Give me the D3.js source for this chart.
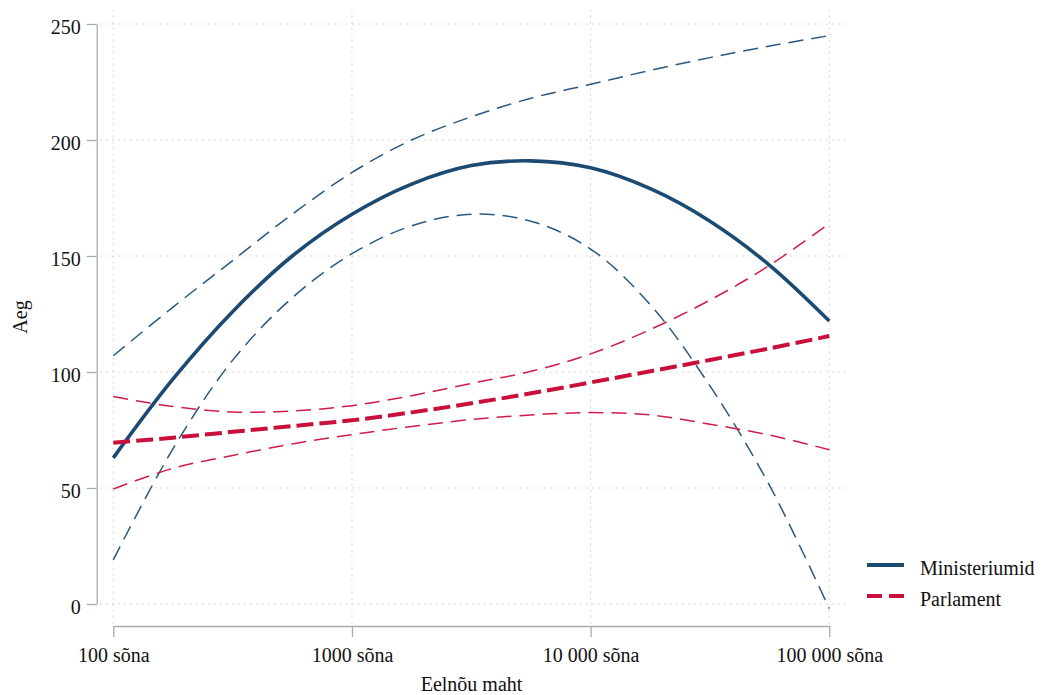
<!DOCTYPE html>
<html>
<head>
<meta charset="utf-8">
<script src="https://cdn.jsdelivr.net/npm/d3@7"></script>
<style>
  html, body { margin: 0; padding: 0; background: #ffffff; }
  svg { display: block; }
  text { font-family: "Liberation Serif", "Times New Roman", serif; fill: #111; }
</style>
</head>
<body>
<svg id="chart" width="1058" height="695"></svg>
<script>
// Draft size (words) at which each curve is evaluated
const wordCounts = [100, 178, 316, 562, 1000, 1778, 3162, 5623, 10000, 17783, 31623, 56234, 100000];

// Ministeeriumid: fitted time and 95% band
const ministeeriumidFit   = [63, 97, 126, 150, 168, 181, 189, 191, 188, 179, 165, 146, 122];
const ministeeriumidUpper = [107, 128, 148, 168, 186, 200, 210, 218, 224, 230, 235.5, 240.5, 245];
const ministeeriumidLower = [19, 67, 105, 132, 151, 163, 168, 165, 153, 129, 94, 51, -2];

// Parlament: fitted time and 95% band
const parlamentFit   = [69.5, 71.7, 74.2, 76.7, 79.2, 82.6, 86.5, 90.8, 95.5, 100.3, 105.2, 110.2, 115.5];
const parlamentUpper = [89.4, 85.1, 82.8, 83.2, 85.5, 89.8, 95.1, 100.3, 107.8, 118.3, 131, 146, 164];
const parlamentLower = [49.6, 58.5, 64, 69, 73, 76.5, 79.5, 81.5, 82.5, 81.5, 77.5, 72.8, 66.5];

// Axis ticks and labels
const xTickValues = [100, 1000, 10000, 100000];
const xTickLabels = ["100 sõna", "1000 sõna", "10 000 sõna", "100 000 sõna"];
const yTickValues = [0, 50, 100, 150, 200, 250];

const legendLabels = ["Ministeriumid", "Parlament"];

const blue = "#1b4a72";
const blueThin = "#2a5780";
const red = "#c8103a";
const redThin = "#cf1d47";

const svg = d3.select("#chart");

const x = d3.scaleLog().domain([100, 100000]).range([113.3, 829.3]);
const y = d3.scaleLinear().domain([0, 250]).range([604, 24]);

// Dotted grid
const grid = svg.append("g").attr("stroke", "#c6c6c6").attr("stroke-width", 1)
  .attr("stroke-dasharray", "1.4,4.6").attr("fill", "none");
grid.selectAll("line.h").data(yTickValues).join("line").attr("class", "h")
  .attr("x1", 100).attr("x2", 847)
  .attr("y1", d => y(d)).attr("y2", d => y(d));
grid.selectAll("line.v").data(xTickValues).join("line").attr("class", "v")
  .attr("x1", d => x(d)).attr("x2", d => x(d))
  .attr("y1", 10).attr("y2", 623);

// Axes
const axisColor = "#ababab";
const yAxis = svg.append("g").attr("transform", "translate(96.7,0)")
  .call(d3.axisLeft(y).tickValues(yTickValues).tickSize(10).tickPadding(6).tickSizeOuter(0));
const xAxis = svg.append("g").attr("transform", "translate(0,626)")
  .call(d3.axisBottom(x).tickValues(xTickValues).tickSize(11).tickPadding(11)
    .tickFormat((d, i) => xTickLabels[i]).tickSizeOuter(0));
[yAxis, xAxis].forEach(g => {
  g.select(".domain").attr("stroke", axisColor).attr("stroke-width", 1.3);
  g.selectAll(".tick line").attr("stroke", axisColor).attr("stroke-width", 1.3);
  g.selectAll(".tick text").attr("font-family", "Liberation Serif, serif")
    .attr("font-size", 20).attr("fill", "#111");
});
yAxis.selectAll(".tick text").attr("dy", "0.32em").attr("y", 3);
xAxis.selectAll(".tick text").attr("dy", 0).attr("y", 36);

// Axis titles
svg.append("text").attr("x", 471.5).attr("y", 691).attr("text-anchor", "middle")
  .attr("font-size", 20).text("Eelnõu maht");
svg.append("text").attr("transform", "translate(27,317) rotate(-90)")
  .attr("text-anchor", "middle").attr("font-size", 20).text("Aeg");

// Curves
const line = d3.line()
  .x(d => x(d[0]))
  .y(d => y(d[1]))
  .curve(d3.curveCatmullRom.alpha(0.5));
const pts = vals => wordCounts.map((w, i) => [w, vals[i]]);

const curves = [
  { vals: ministeeriumidUpper, color: blueThin, width: 1.5, dash: "15,8" },
  { vals: ministeeriumidLower, color: blueThin, width: 1.5, dash: "15,8" },
  { vals: ministeeriumidFit,   color: blue,     width: 3.6, dash: null },
  { vals: parlamentUpper,      color: redThin,  width: 1.5, dash: "15,8" },
  { vals: parlamentLower,      color: redThin,  width: 1.5, dash: "15,8" },
  { vals: parlamentFit,        color: red,      width: 4,   dash: "17,6" }
];
svg.append("g").selectAll("path").data(curves).join("path")
  .attr("d", c => line(pts(c.vals)))
  .attr("fill", "none")
  .attr("stroke", c => c.color)
  .attr("stroke-width", c => c.width)
  .attr("stroke-dasharray", c => c.dash);

// Legend
const legend = svg.append("g");
const legendItems = [
  { label: legendLabels[0], color: blue, dash: null, y: 565 },
  { label: legendLabels[1], color: red, dash: "15,7", y: 596 }
];
legend.selectAll("line").data(legendItems).join("line")
  .attr("x1", 867).attr("x2", 904)
  .attr("y1", d => d.y).attr("y2", d => d.y)
  .attr("stroke", d => d.color).attr("stroke-width", 4)
  .attr("stroke-dasharray", d => d.dash);
legend.selectAll("text").data(legendItems).join("text")
  .attr("x", 920).attr("y", d => d.y + 10)
  .attr("font-size", 20).text(d => d.label);
</script>
</body>
</html>
